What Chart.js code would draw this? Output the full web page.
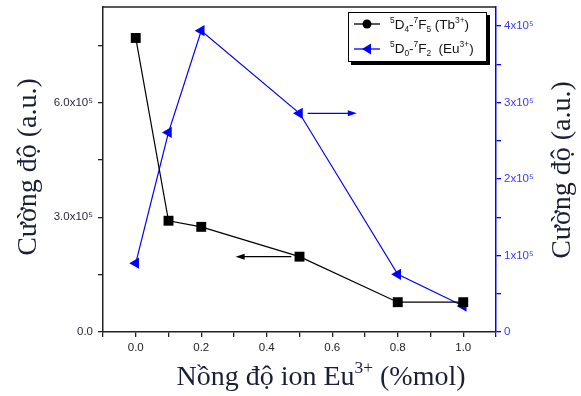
<!DOCTYPE html>
<html>
<head>
<meta charset="utf-8">
<script src="https://cdn.jsdelivr.net/npm/chart.js@4/dist/chart.umd.min.js"></script>
<style>
  html, body { margin: 0; padding: 0; background: #fff; }
  #wrap { width: 581px; height: 396px; position: relative; }
</style>
</head>
<body>
<div id="wrap"><canvas id="c" width="581" height="396"></canvas></div>
<script>
// ---- data ----
const concentrations = [0, 0.1, 0.2, 0.5, 0.8, 1.0];               // Eu3+ (%mol)
const tbIntensity    = [7.69e5, 2.91e5, 2.75e5, 1.97e5, 0.78e5, 0.78e5]; // 5D4-7F5 (Tb3+), left axis
const euIntensity    = [0.90e5, 2.61e5, 3.94e5, 2.86e5, 0.755e5, 0.34e5]; // 5D0-7F2 (Eu3+), right axis
const xTickValues    = [-0.1, 0, 0.1, 0.2, 0.3, 0.4, 0.5, 0.6, 0.7, 0.8, 0.9, 1.0, 1.1];
const xTickLabels    = { 0: '0.0', 2: '0.2', 4: '0.4', 6: '0.6', 8: '0.8', 10: '1.0' };
const leftTickValues = [0, 1.5e5, 3e5, 4.5e5, 6e5, 7.5e5];
const leftTickLabels = { 0: '0.0', 300000: '3.0x10⁵', 600000: '6.0x10⁵' };
const rightTickValues = [0, 0.5e5, 1e5, 1.5e5, 2e5, 2.5e5, 3e5, 3.5e5, 4e5];
const rightTickLabels = { 0: '0', 100000: '1x10⁵', 200000: '2x10⁵', 300000: '3x10⁵', 400000: '4x10⁵' };
const yTitle = 'Cường độ (a.u.)';

const BLUE = '#0000ff';
const TITLE_COLOR = '#1b1f36';
const SERIF = '"Liberation Serif", "DejaVu Serif", serif';
const SANS = '"Liberation Sans", Arial, sans-serif';

function toPoints(xs, ys) { return xs.map((x, i) => ({ x: x, y: ys[i] })); }

function drawRich(ctx, fam, parts, x, y, size, align) {
  let w = 0;
  parts.forEach(p => {
    const s = p[1] === 'n' ? size : size * 0.62;
    ctx.font = s + 'px ' + fam;
    w += ctx.measureText(p[0]).width;
  });
  let cx = align === 'center' ? x - w / 2 : x;
  ctx.textAlign = 'left';
  ctx.textBaseline = 'alphabetic';
  parts.forEach(p => {
    const s = p[1] === 'n' ? size : size * 0.62;
    ctx.font = s + 'px ' + fam;
    let dy = 0;
    if (p[1] === 'sup') dy = -size * 0.42;
    if (p[1] === 'sub') dy = size * 0.22;
    ctx.fillText(p[0], cx, y + dy);
    cx += ctx.measureText(p[0]).width;
  });
}

const decorPlugin = {
  id: 'decor',
  afterDatasetsDraw(chart) {
    const ctx = chart.ctx;
    const a = chart.chartArea;
    const xs = chart.scales.x, yl = chart.scales.y, yr = chart.scales.y1;
    ctx.save();
    // top frame
    ctx.strokeStyle = '#222';
    ctx.lineWidth = 1.5;
    ctx.beginPath();
    ctx.moveTo(a.left, a.top);
    ctx.lineTo(a.right, a.top);
    ctx.stroke();

    // arrows
    function arrow(x1, x2, y, color) {
      const dir = Math.sign(x2 - x1);
      ctx.strokeStyle = color; ctx.fillStyle = color; ctx.lineWidth = 1.3;
      ctx.beginPath(); ctx.moveTo(x1, y); ctx.lineTo(x2 - dir * 6, y); ctx.stroke();
      ctx.beginPath();
      ctx.moveTo(x2, y); ctx.lineTo(x2 - dir * 9, y - 3); ctx.lineTo(x2 - dir * 9, y + 3); ctx.closePath();
      ctx.fill();
    }
    arrow(xs.getPixelForValue(0.475), xs.getPixelForValue(0.305), yl.getPixelForValue(tbIntensity[3]), '#000');
    arrow(xs.getPixelForValue(0.525), xs.getPixelForValue(0.675), yr.getPixelForValue(euIntensity[3]), BLUE);

    // legend box
    const lx = 348, ly = 12, lw = 139, lh = 50;
    ctx.fillStyle = '#000';
    ctx.fillRect(lx + 3, ly + 3, lw, lh);
    ctx.fillStyle = '#fff';
    ctx.fillRect(lx, ly, lw, lh);
    ctx.strokeStyle = '#000'; ctx.lineWidth = 1;
    ctx.strokeRect(lx + 0.5, ly + 0.5, lw - 1, lh - 1);
    // row 1
    ctx.strokeStyle = '#000'; ctx.lineWidth = 1.3;
    ctx.beginPath(); ctx.moveTo(354, 24); ctx.lineTo(380, 24); ctx.stroke();
    ctx.fillStyle = '#000';
    ctx.beginPath(); ctx.arc(367, 24, 4.5, 0, Math.PI * 2); ctx.fill();
    // row 2
    ctx.strokeStyle = BLUE;
    ctx.beginPath(); ctx.moveTo(354, 49); ctx.lineTo(380, 49); ctx.stroke();
    ctx.fillStyle = BLUE;
    ctx.beginPath(); ctx.moveTo(362, 49); ctx.lineTo(371, 43.5); ctx.lineTo(371, 54.5); ctx.closePath(); ctx.fill();
    ctx.fillStyle = '#111';
    drawRich(ctx, SANS, [['5', 'sup'], ['D', 'n'], ['4', 'sub'], ['-', 'n'], ['7', 'sup'], ['F', 'n'], ['5', 'sub'], [' (Tb', 'n'], ['3+', 'sup'], [')', 'n']], 390, 29, 13.5, 'left');
    drawRich(ctx, SANS, [['5', 'sup'], ['D', 'n'], ['0', 'sub'], ['-', 'n'], ['7', 'sup'], ['F', 'n'], ['2', 'sub'], ['  (Eu', 'n'], ['3+', 'sup'], [')', 'n']], 390, 53, 13.5, 'left');

    // axis titles
    ctx.fillStyle = TITLE_COLOR;
    drawRich(ctx, SERIF, [['Nồng độ ion Eu', 'n'], ['3+', 'sup'], [' (%mol)', 'n']], 321, 385, 28, 'center');
    ctx.font = '28px ' + SERIF;
    ctx.textAlign = 'center';
    ctx.textBaseline = 'middle';
    ctx.save(); ctx.translate(29, 167); ctx.rotate(-Math.PI / 2); ctx.fillText(yTitle, 0, 0); ctx.restore();
    ctx.save(); ctx.translate(563, 170); ctx.rotate(-Math.PI / 2); ctx.fillText(yTitle, 0, 0); ctx.restore();
    ctx.restore();
  }
};

function setTicks(values) {
  return function (s) { s.ticks = values.map(v => ({ value: v })); };
}

new Chart(document.getElementById('c'), {
  type: 'line',
  data: {
    datasets: [
      {
        label: '5D4-7F5 (Tb3+)',
        data: toPoints(concentrations, tbIntensity),
        yAxisID: 'y',
        borderColor: '#000',
        backgroundColor: '#000',
        borderWidth: 1.2,
        pointStyle: 'rect',
        pointRadius: 7,
        pointHoverRadius: 7,
        pointBorderWidth: 0,
        tension: 0
      },
      {
        label: '5D0-7F2 (Eu3+)',
        data: toPoints(concentrations, euIntensity),
        yAxisID: 'y1',
        borderColor: BLUE,
        backgroundColor: BLUE,
        borderWidth: 1.2,
        pointStyle: 'triangle',
        rotation: -90,
        pointRadius: 6.5,
        pointHoverRadius: 6.5,
        pointBorderWidth: 0,
        tension: 0
      }
    ]
  },
  options: {
    responsive: false,
    animation: false,
    events: [],
    layout: { padding: { top: 3, left: 0, right: 0, bottom: 0 } },
    plugins: { legend: { display: false }, tooltip: { enabled: false } },
    scales: {
      x: {
        type: 'linear',
        min: -0.1, max: 1.1,
        afterBuildTicks: setTicks(xTickValues),
        afterFit(s) { s.height = 64; s.paddingLeft = 0; s.paddingRight = 0; },
        border: { color: '#222', width: 1.5 },
        grid: { drawOnChartArea: false, drawTicks: true, tickLength: 5, color: '#222', lineWidth: 1.3 },
        ticks: {
          autoSkip: false,
          maxRotation: 0,
          padding: 4,
          color: '#222',
          font: { family: SANS, size: 11.5 },
          callback(v) {
            const k = Math.round(v * 10);
            return xTickLabels[k] !== undefined ? xTickLabels[k] : '';
          }
        }
      },
      y: {
        position: 'left',
        min: 0, max: 8.5e5,
        afterBuildTicks: setTicks(leftTickValues),
        afterFit(s) { s.width = 103; s.paddingTop = 0; s.paddingBottom = 0; },
        border: { color: '#222', width: 1.5 },
        grid: { drawOnChartArea: false, drawTicks: true, tickLength: 5, color: '#222', lineWidth: 1.3 },
        ticks: {
          autoSkip: false,
          padding: 5,
          color: '#2a2a3a',
          font: { family: SANS, size: 11.5 },
          callback(v) { const k = Math.round(v); return leftTickLabels[k] !== undefined ? leftTickLabels[k] : ''; }
        }
      },
      y1: {
        position: 'right',
        min: 0, max: 4.25e5,
        afterBuildTicks: setTicks(rightTickValues),
        afterFit(s) { s.width = 85; s.paddingTop = 0; s.paddingBottom = 0; },
        border: { color: BLUE, width: 1.5 },
        grid: { drawOnChartArea: false, drawTicks: true, tickLength: 5, color: BLUE, lineWidth: 1.3 },
        ticks: {
          autoSkip: false,
          padding: 3,
          color: '#3a3aff',
          font: { family: SANS, size: 11.5 },
          callback(v) { const k = Math.round(v); return rightTickLabels[k] !== undefined ? rightTickLabels[k] : ''; }
        }
      }
    }
  },
  plugins: [decorPlugin]
});
</script>
</body>
</html>
